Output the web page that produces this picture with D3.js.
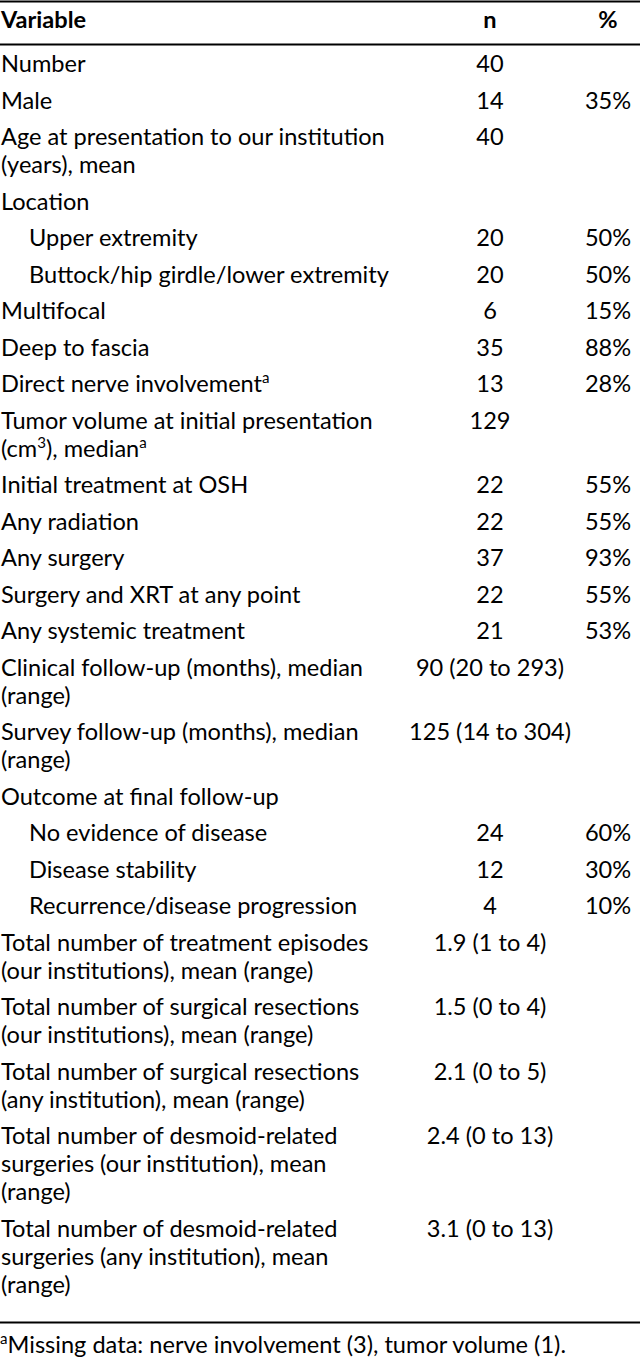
<!DOCTYPE html>
<html><head><meta charset="utf-8">
<script src="https://cdn.jsdelivr.net/npm/d3@7"></script>
<style>html,body{margin:0;padding:0;background:#fff;}svg{display:block;}</style>
</head><body>
<script>
// ---- data ----
const headers = ["Variable", "n", "%"];
const labels = [
  ["Number"],
  ["Male"],
  ["Age at presentation to our institution", "(years), mean"],
  ["Location"],
  ["Upper extremity"],
  ["Buttock/hip girdle/lower extremity"],
  ["Multifocal"],
  ["Deep to fascia"],
  ["Direct nerve involvement^a"],
  ["Tumor volume at initial presentation", "(cm^3), median^a"],
  ["Initial treatment at OSH"],
  ["Any radiation"],
  ["Any surgery"],
  ["Surgery and XRT at any point"],
  ["Any systemic treatment"],
  ["Clinical follow-up (months), median", "(range)"],
  ["Survey follow-up (months), median", "(range)"],
  ["Outcome at final follow-up"],
  ["No evidence of disease"],
  ["Disease stability"],
  ["Recurrence/disease progression"],
  ["Total number of treatment episodes", "(our institutions), mean (range)"],
  ["Total number of surgical resections", "(our institutions), mean (range)"],
  ["Total number of surgical resections", "(any institution), mean (range)"],
  ["Total number of desmoid-related", "surgeries (our institution), mean", "(range)"],
  ["Total number of desmoid-related", "surgeries (any institution), mean", "(range)"]
];
const indented = [0,0,0,0,1,1,0,0,0,0,0,0,0,0,0,0,0,0,1,1,1,0,0,0,0,0];
const nValues = ["40","14","40","","20","20","6","35","13","129","22","22","37","22","21",
  "90 (20 to 293)","125 (14 to 304)","","24","12","4",
  "1.9 (1 to 4)","1.5 (0 to 4)","2.1 (0 to 5)","2.4 (0 to 13)","3.1 (0 to 13)"];
const pctValues = ["","35%","","","50%","50%","15%","88%","28%","","55%","55%","93%","55%","53%",
  "","","","60%","30%","10%","","","","",""];
const footnote = "^aMissing data: nerve involvement (3), tumor volume (1).";

// ---- layout ----
const W = 640, H = 1362;
const svg = d3.select("body").append("svg").attr("width", W).attr("height", H);
const fam = "Lato, 'Open Sans', sans-serif";

// choose font size so a reference line matches the source width
const probe = svg.append("text").attr("font-family", fam).attr("font-size", 100).text(labels[2][0]);
const pw = probe.node().getComputedTextLength();
probe.remove();
const fs = 100 * 384 / pw;

const rowBase = 36.5, lineGap = 28;
const rows = labels.map((l, i) => ({lines: l, ind: indented[i], n: nValues[i], p: pctValues[i]}));
let acc = 0;
rows.forEach(r => { r.off = acc; acc += rowBase + lineGap * (r.lines.length - 1); });

const y = d3.scaleLinear().domain([0, 1]).range([72, 73]); // offset -> baseline
const x = d3.scaleOrdinal().domain(["label", "n", "p"]).range([1, 490, 608]);
const indentX = 28;

function addRich(sel, str, size) {
  const parts = str.split(/(\^[a-z0-9])/).filter(p => p);
  let raised = false;
  parts.forEach(p => {
    if (p[0] === "^") {
      sel.append("tspan").attr("font-size", size * 0.64).attr("dy", -size * 0.38).text(p.slice(1));
      raised = true;
    } else {
      const t = sel.append("tspan").text(p);
      if (raised) { t.attr("dy", size * 0.38); raised = false; }
    }
  });
}

// rules
svg.append("line").attr("x1", 0).attr("x2", W).attr("y1", 1.5).attr("y2", 1.5).attr("stroke", "#000").attr("stroke-width", 2);
svg.append("line").attr("x1", 0).attr("x2", W).attr("y1", 44.5).attr("y2", 44.5).attr("stroke", "#000").attr("stroke-width", 2);
const lastRow = rows[rows.length - 1];
const bottomY = y(lastRow.off) + lineGap * (lastRow.lines.length - 1) + 30;
svg.append("line").attr("x1", 0).attr("x2", W).attr("y1", bottomY).attr("y2", bottomY).attr("stroke", "#000").attr("stroke-width", 2);

// header
const hdr = svg.append("g").attr("font-family", fam).attr("font-size", fs).attr("font-weight", "bold").attr("fill", "#000");
hdr.append("text").attr("x", x("label")).attr("y", 28).text(headers[0]);
hdr.append("text").attr("x", x("n")).attr("y", 28).attr("text-anchor", "middle").text(headers[1]);
hdr.append("text").attr("x", x("p")).attr("y", 28).attr("text-anchor", "middle").text(headers[2]);

// body
const body = svg.append("g").attr("font-family", fam).attr("font-size", fs).attr("fill", "#000");
const rg = body.selectAll("g.row").data(rows).join("g").attr("class", "row")
  .attr("transform", d => `translate(0,${y(d.off)})`);
rg.each(function(d) {
  const g = d3.select(this);
  d.lines.forEach((ln, k) => {
    const t = g.append("text").attr("x", x("label") + (d.ind ? indentX : 0)).attr("y", k * lineGap);
    addRich(t, ln, fs);
  });
  if (d.n) g.append("text").attr("x", x("n")).attr("y", 0).attr("text-anchor", "middle").text(d.n);
  if (d.p) g.append("text").attr("x", x("p")).attr("y", 0).attr("text-anchor", "middle").text(d.p);
});

// footnote
const ft = svg.append("text").attr("font-family", fam).attr("font-size", fs).attr("fill", "#000")
  .attr("x", 0).attr("y", bottomY + 30);
addRich(ft, footnote, fs);
</script>
</body></html>
